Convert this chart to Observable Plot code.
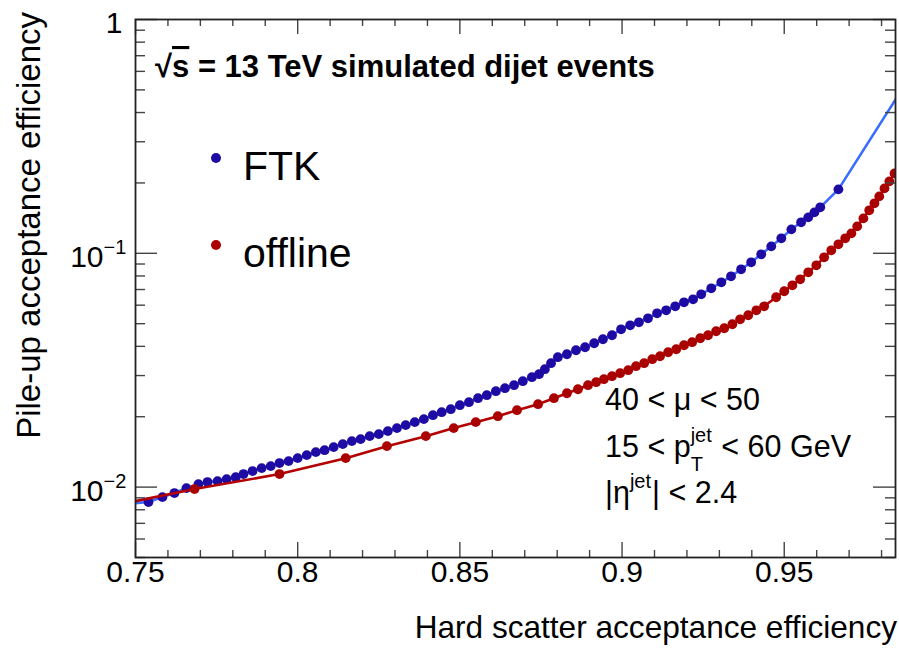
<!DOCTYPE html>
<html><head><meta charset="utf-8">
<script src="https://cdn.jsdelivr.net/npm/d3@7"></script>
<script src="https://cdn.jsdelivr.net/npm/@observablehq/plot@0.6"></script>
<style>
body{margin:0;background:#fff}
svg{font-family:"Liberation Sans",Arial,Helvetica,sans-serif}
</style>
</head><body><div id="chart"></div>
<script>
// ---- data ----
const ftkEff = [0.7540,0.7583,0.7620,0.7657,0.7694,0.7722,0.7753,0.7781,0.7809,0.7833,0.7861,0.7889,0.7917,0.7944,0.7972,0.8000,0.8028,0.8056,0.8083,0.8111,0.8139,0.8167,0.8194,0.8222,0.8250,0.8278,0.8306,0.8333,0.8361,0.8389,0.8417,0.8444,0.8472,0.8500,0.8528,0.8556,0.8583,0.8611,0.8639,0.8667,0.8694,0.8722,0.8744,0.8762,0.8781,0.8802,0.8830,0.8858,0.8886,0.8914,0.8941,0.8969,0.8997,0.9025,0.9052,0.9080,0.9108,0.9136,0.9164,0.9191,0.9219,0.9244,0.9275,0.9306,0.9336,0.9367,0.9398,0.9429,0.9460,0.9491,0.9522,0.9552,0.9574,0.9593,0.9611,0.9667];
const ftkPileup = [0.00863,0.00906,0.00943,0.00990,0.01030,0.01051,0.01061,0.01082,0.01103,0.01137,0.01171,0.01206,0.01230,0.01267,0.01292,0.01330,0.01370,0.01411,0.01439,0.01483,0.01527,0.01573,0.01604,0.01652,0.01685,0.01736,0.01788,0.01841,0.01896,0.01953,0.02031,0.02092,0.02154,0.02241,0.02308,0.02401,0.02473,0.02572,0.02649,0.02729,0.02838,0.02952,0.03040,0.03194,0.03388,0.03594,0.03701,0.03850,0.03965,0.04125,0.04290,0.04463,0.04732,0.04922,0.05070,0.05273,0.05539,0.05705,0.05934,0.06172,0.06357,0.06678,0.07083,0.07516,0.07974,0.08541,0.09152,0.09902,0.1071,0.1159,0.1266,0.1357,0.1425,0.1497,0.1573,0.1877];
// line continues beyond the plotted frame on both ends
const ftkLineHead = [[0.7500, 0.00854]];
const ftkLineTail = [[1.0000, 1.0]];

const offlineEff = [0.7682,0.7944,0.8148,0.8275,0.8395,0.8481,0.8549,0.8617,0.8676,0.8741,0.8790,0.8830,0.8864,0.8895,0.8920,0.8944,0.8969,0.8994,0.9019,0.9043,0.9068,0.9093,0.9117,0.9142,0.9167,0.9191,0.9216,0.9241,0.9265,0.9290,0.9315,0.9340,0.9364,0.9389,0.9414,0.9438,0.9475,0.9500,0.9525,0.9549,0.9574,0.9599,0.9623,0.9645,0.9667,0.9688,0.9707,0.9725,0.9744,0.9762,0.9778,0.9793,0.9809,0.9824,0.9840];
const offlinePileup = [0.00981,0.01137,0.01330,0.01497,0.01652,0.01788,0.01896,0.02011,0.02133,0.02263,0.02401,0.02521,0.02622,0.02729,0.02811,0.02895,0.02981,0.03071,0.03162,0.03289,0.03388,0.03524,0.03629,0.03775,0.03888,0.04044,0.04166,0.04333,0.04463,0.04642,0.04780,0.04972,0.05222,0.05433,0.05705,0.05934,0.06486,0.06882,0.07299,0.07743,0.08294,0.08886,0.09614,0.1030,0.1093,0.1159,0.1217,0.1304,0.1411,0.1527,0.1636,0.1752,0.1895,0.2031,0.2197];
const offlineLineHead = [[0.7500, 0.00871]];

const xMajorTicks = [0.75, 0.8, 0.85, 0.9, 0.95];
const xTickLabels = ["0.75", "0.8", "0.85", "0.9", "0.95"];
const xMinorTicks = [0.76,0.77,0.78,0.79,0.81,0.82,0.83,0.84,0.86,0.87,0.88,0.89,0.91,0.92,0.93,0.94,0.96,0.97,0.98];
const yMajorTicks = [0.01, 0.1, 1];
const yExpLabels = ["−2", "−1", ""];
const yMinorTicks = [0.005,0.006,0.007,0.008,0.009,0.02,0.03,0.04,0.05,0.06,0.07,0.08,0.09,0.2,0.3,0.4,0.5,0.6,0.7,0.8,0.9];

const xTitle = "Hard scatter acceptance efficiency";
const yTitle = "Pile-up acceptance efficiency";
const seriesNames = ["FTK", "offline"];

// ---- layout ----
const W = 899, H = 650, mL = 135, mR = 4, mT = 19, mB = 93;
const innerH = H - mT - mB, innerW = W - mL - mR;
const blueDot = "#1d0ba4", blueLine = "#3a6cff", redDot = "#ab0000", redLine = "#b30000";
const tickCol = "#444";

const ftk = ftkEff.map((x, i) => ({x, y: ftkPileup[i]}));
const offline = offlineEff.map((x, i) => ({x, y: offlinePileup[i]}));
const ftkLine = [...ftkLineHead.map(([x, y]) => ({x, y})), ...ftk, ...ftkLineTail.map(([x, y]) => ({x, y}))];
const offlineLine = [...offlineLineHead.map(([x, y]) => ({x, y})), ...offline];

const plot = Plot.plot({
  width: W, height: H,
  marginLeft: mL, marginRight: mR, marginTop: mT, marginBottom: mB,
  x: {type: "linear", domain: [0.75, 0.9843], axis: null},
  y: {type: "log", domain: [0.005, 1], axis: null},
  style: {fontFamily: '"Liberation Sans", Arial, sans-serif', background: "#fff", overflow: "visible"},
  marks: [
    Plot.line(ftkLine, {x: "x", y: "y", stroke: blueLine, strokeWidth: 2.6, clip: true}),
    Plot.dot(ftk, {x: "x", y: "y", r: 4.9, fill: blueDot, clip: true}),
    Plot.line(offlineLine, {x: "x", y: "y", stroke: redLine, strokeWidth: 2.6, clip: true}),
    Plot.dot(offline, {x: "x", y: "y", r: 4.9, fill: redDot, clip: true}),
    // ticks inside the frame (ROOT style), bottom/top
    Plot.ruleX(xMajorTicks, {x: d => d, insetTop: innerH - 15, stroke: tickCol, strokeWidth: 1.4}),
    Plot.ruleX(xMinorTicks, {x: d => d, insetTop: innerH - 7, stroke: tickCol, strokeWidth: 1.4}),
    Plot.ruleX(xMajorTicks, {x: d => d, insetBottom: innerH - 15, stroke: tickCol, strokeWidth: 1.4}),
    Plot.ruleX(xMinorTicks, {x: d => d, insetBottom: innerH - 7, stroke: tickCol, strokeWidth: 1.4}),
    // left/right
    Plot.ruleY(yMajorTicks, {y: d => d, insetRight: innerW - 22, stroke: tickCol, strokeWidth: 1.4}),
    Plot.ruleY(yMinorTicks, {y: d => d, insetRight: innerW - 10, stroke: tickCol, strokeWidth: 1.4}),
    Plot.ruleY(yMajorTicks, {y: d => d, insetLeft: innerW - 22, stroke: tickCol, strokeWidth: 1.4}),
    Plot.ruleY(yMinorTicks, {y: d => d, insetLeft: innerW - 10, stroke: tickCol, strokeWidth: 1.4}),
    Plot.frame({stroke: "#222", strokeWidth: 1.8}),
    // x tick labels
    Plot.text(xMajorTicks, {x: d => d, text: (d, i) => xTickLabels[i], frameAnchor: "bottom", dy: 24, fontSize: 30, fill: "#000"}),
    // y tick labels: "10" with superscript exponent, or "1"
    Plot.text(yMajorTicks.filter(d => d < 1), {y: d => d, text: () => "10", frameAnchor: "left", textAnchor: "end", dx: -32, dy: 4, fontSize: 30, fill: "#000"}),
    Plot.text(yMajorTicks.filter(d => d < 1), {y: d => d, text: (d, i) => yExpLabels[i], frameAnchor: "left", textAnchor: "start", dx: -32, dy: -6, fontSize: 20, fill: "#000"}),
    Plot.text(yMajorTicks.filter(d => d === 1), {y: d => d, text: () => "1", frameAnchor: "left", textAnchor: "end", dx: -13, dy: 4, fontSize: 30, fill: "#000"})
  ]
});
document.getElementById("chart").appendChild(plot);

// ---- texts with sub/superscripts, titles and legend ----
const svg = d3.select(plot);
const g = svg.append("g").attr("fill", "#000").attr("text-anchor", "start")
  .style("font-family", '"Liberation Sans", Arial, sans-serif');

// axis titles
g.append("text").attr("x", 897).attr("y", 638).attr("text-anchor", "end")
  .attr("font-size", 31.6).text(xTitle);
g.append("text").attr("transform", "translate(40,12) rotate(-90)").attr("text-anchor", "end")
  .attr("font-size", 33).text(yTitle);

// header
const hdr = g.append("text").attr("x", 155).attr("y", 77).attr("font-size", 31).attr("font-weight", "bold");
hdr.append("tspan").text("√");
hdr.append("tspan").attr("text-decoration", "overline").text("s");
hdr.append("tspan").text(" = 13 TeV simulated dijet events");

// legend
const legY = [158, 245];
const legCol = [blueDot, redDot];
seriesNames.forEach((name, i) => {
  g.append("circle").attr("cx", 216).attr("cy", legY[i]).attr("r", 5).attr("fill", legCol[i]);
  g.append("text").attr("x", 243).attr("y", legY[i] + 22).attr("font-size", 41).text(name);
});

// annotations
const fs = 30.5, sfs = 20;
function segText(x, y, parts) {
  let cx = x;
  parts.forEach(p => {
    if (p.sup !== undefined || p.sub !== undefined) {
      let w = 0;
      if (p.sup) { const e = g.append("text").attr("x", cx).attr("y", y - 15).attr("font-size", sfs).text(p.sup); w = Math.max(w, e.node().getComputedTextLength()); }
      if (p.sub) { const e = g.append("text").attr("x", cx).attr("y", y + 14).attr("font-size", sfs).text(p.sub); w = Math.max(w, e.node().getComputedTextLength()); }
      cx += w + 1;
    } else {
      const e = g.append("text").attr("x", cx).attr("y", y).attr("font-size", fs).style("white-space", "pre").text(p.t);
      cx += e.node().getComputedTextLength();
    }
  });
}
segText(605, 410, [{t: "40 < μ < 50"}]);
segText(605, 457, [{t: "15 < p"}, {sup: "jet", sub: "T"}, {t: " < 60 GeV"}]);
segText(605, 503, [{t: "|η"}, {sup: "jet"}, {t: "| < 2.4"}]);
</script>
</body></html>
